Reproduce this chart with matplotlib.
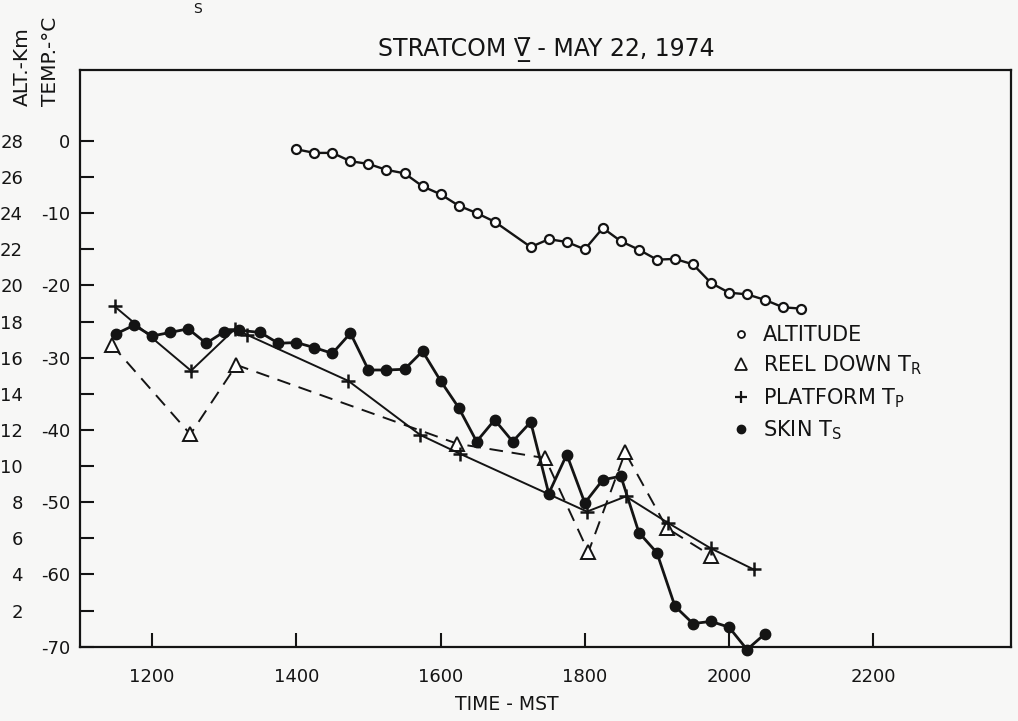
import matplotlib
matplotlib.use("Agg")
import matplotlib.pyplot as plt
from matplotlib.lines import Line2D

# ---------------- data ----------------
# time in decimal hours MST, altitude in km, temperatures in deg C
alt_time = [14.0, 14.25, 14.5, 14.75, 15.0, 15.25, 15.5, 15.75, 16.0, 16.25,
            16.5, 16.75, 17.25, 17.5, 17.75, 18.0, 18.25, 18.5, 18.75, 19.0,
            19.25, 19.5, 19.75, 20.0, 20.25, 20.5, 20.75, 21.0]
alt_km = [27.54, 27.34, 27.34, 26.88, 26.73, 26.40, 26.21, 25.49, 25.05, 24.42,
          24.01, 23.53, 22.13, 22.56, 22.41, 22.00, 23.18, 22.45, 21.98, 21.43,
          21.47, 21.17, 20.14, 19.60, 19.51, 19.20, 18.79, 18.72]

reel_time = [11.44, 12.53, 13.17, 16.23, 17.45, 18.05, 18.56, 19.14, 19.75]
reel_temp = [-28.2, -40.6, -31.0, -41.9, -43.9, -56.9, -43.1, -53.6, -57.4]

plat_time = [11.48, 12.54, 13.15, 13.31, 14.72, 15.72, 16.27, 18.03, 18.57,
             19.16, 19.75, 20.34]
plat_temp = [-22.9, -31.8, -26.0, -26.8, -33.2, -40.7, -43.3, -51.3, -49.2,
             -52.9, -56.4, -59.3]

skin_time = [11.5, 11.75, 12.0, 12.25, 12.5, 12.75, 13.0, 13.2, 13.5, 13.75,
             14.0, 14.25, 14.5, 14.75, 15.0, 15.25, 15.5, 15.75, 16.0, 16.25,
             16.5, 16.75, 17.0, 17.25, 17.5, 17.75, 18.0, 18.25, 18.5, 18.75,
             19.0, 19.25, 19.5, 19.75, 20.0, 20.25, 20.5]
skin_temp = [-26.7, -25.5, -27.0, -26.5, -26.0, -28.0, -26.4, -26.2, -26.5, -28.0,
             -27.9, -28.6, -29.4, -26.6, -31.7, -31.7, -31.6, -29.1, -33.2, -36.9,
             -41.6, -38.6, -41.6, -38.9, -48.8, -43.4, -50.1, -46.9, -46.4, -54.2,
             -57.0, -64.4, -66.8, -66.5, -67.3, -70.4, -68.2]

x_ticks = [12, 14, 16, 18, 20, 22]
x_tick_labels = ["1200", "1400", "1600", "1800", "2000", "2200"]
km_ticks = [0, 2, 4, 6, 8, 10, 12, 14, 16, 18, 20, 22, 24, 26, 28]
km_tick_labels = ["", "2", "4", "6", "8", "10", "12", "14", "16", "18", "20",
                  "22", "24", "26", "28"]
temp_ticks = [-70, -60, -50, -40, -30, -20, -10, 0]
temp_tick_labels = ["-70", "-60", "-50", "-40", "-30", "-20", "-10", "0"]

legend_labels = ["ALTITUDE", r"REEL DOWN T$_\mathregular{R}$",
                 r"PLATFORM T$_\mathregular{P}$", r"SKIN T$_\mathregular{S}$"]

# ---------------- style ----------------
INK = "#141414"
BG = "#f7f7f6"
plt.rcParams["font.family"] = ["DejaVu Sans"]
plt.rcParams["text.color"] = INK

W, H = 1018, 721
fig = plt.figure(figsize=(W / 100, H / 100), dpi=100, facecolor=BG)

left_px, right_px, top_px, bot_px = 80, 1011, 70, 646.7
ax = fig.add_axes([left_px / W, 1 - bot_px / H, (right_px - left_px) / W,
                   (bot_px - top_px) / H])
ax.set_facecolor(BG)

km_top = 31.93
ax.set_xlim(11.0, 23.91)
ax.set_ylim(0, km_top)

ax2 = ax.twinx()
ax2.set_ylim((0 - 28) * 2.5, (km_top - 28) * 2.5)

for sp in ax.spines.values():
    sp.set_linewidth(1.6)
    sp.set_color(INK)
for sp in ax2.spines.values():
    sp.set_visible(False)

# altitude
ax.plot(alt_time, alt_km, color=INK, lw=1.7, marker="o", ms=6.5,
        mfc="white", mec=INK, mew=1.6, zorder=3)

# reel down (dashed, triangles)
ax2.plot(reel_time, reel_temp, color=INK, lw=1.4, dashes=(7, 4.5),
         marker="^", ms=10, mfc="white", mec=INK, mew=1.4, zorder=3)
# platform (+)
ax2.plot(plat_time, plat_temp, color=INK, lw=1.4, marker="+", ms=10,
         mew=1.8, zorder=4)
# skin (filled dots)
ax2.plot(skin_time, skin_temp, color=INK, lw=2.0, marker="o", ms=7.5,
         mfc=INK, mec=INK, zorder=5, clip_on=False)

# ticks
ax.set_xticks(x_ticks)
ax.set_xticklabels(x_tick_labels)
ax.set_yticks(km_ticks)
ax.set_yticklabels(km_tick_labels)
ax.tick_params(axis="both", direction="in", length=10, width=1.5, color=INK,
               labelsize=13, labelcolor=INK)
ax.tick_params(axis="y", pad=41)
ax.tick_params(axis="x", pad=15)
ax.tick_params(axis="y", which="both", right=False)

ax2.yaxis.tick_left()
ax2.set_yticks(temp_ticks)
ax2.set_yticklabels(temp_tick_labels)
ax2.tick_params(axis="y", length=0, pad=7, labelsize=13, labelcolor=INK)

# labels
fig.text(507 / W, 1 - 705 / H, "TIME - MST", ha="center", va="center",
         fontsize=13.5, color=INK)
fig.text(22 / W, 1 - 106 / H, "ALT.-Km", rotation=90, ha="center",
         va="bottom", fontsize=14.5, color=INK)
fig.text(51 / W, 1 - 106 / H, "TEMP.-°C", rotation=90, ha="center",
         va="bottom", fontsize=14.5, color=INK)

fig.text(546 / W, 1 - 50 / H, "STRATCOM V\u0332\u0305 - MAY 22, 1974",
         ha="center", va="center", fontsize=17, color=INK)
fig.text(198 / W, 1 - 9 / H, "S", ha="center", va="center", fontsize=10,
         color=INK)

# legend
handles = [
    Line2D([], [], ls="none", marker="o", ms=5, mfc="white", mec=INK, mew=1.3),
    Line2D([], [], ls="none", marker="^", ms=9, mfc="white", mec=INK, mew=1.3),
    Line2D([], [], ls="none", marker="+", ms=8, mec=INK, mew=1.6),
    Line2D([], [], ls="none", marker="o", ms=6, mfc=INK, mec=INK),
]
leg = ax.legend(handles, legend_labels, loc="upper left",
                bbox_to_anchor=((731 - left_px) / (right_px - left_px),
                                (bot_px - 325) / (bot_px - top_px)),
                frameon=False, fontsize=15, borderpad=0, borderaxespad=0,
                handlelength=1.0, handletextpad=0.55, labelspacing=0.42)
for t in leg.get_texts():
    t.set_color(INK)

fig.savefig("out.png", dpi=100, facecolor=BG)
